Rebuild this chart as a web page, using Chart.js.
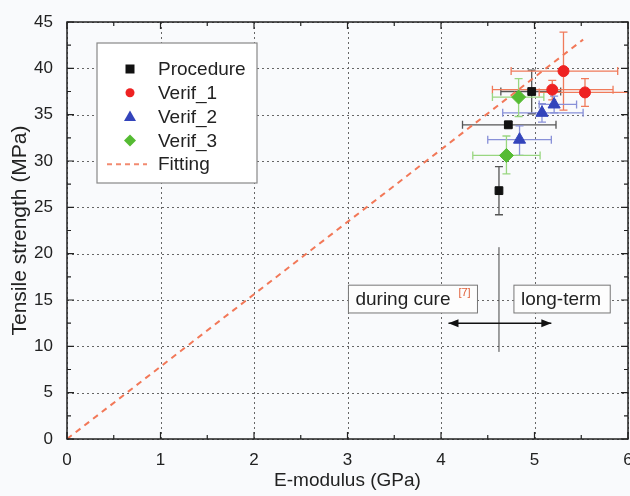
<!DOCTYPE html>
<html>
<head>
<meta charset="utf-8">
<script src="https://cdn.jsdelivr.net/npm/chart.js@4"></script>
<style>
  html, body { margin: 0; padding: 0; background: #f9fafc; overflow: hidden; }
  #wrap { width: 630px; height: 496px; overflow: hidden; }
</style>
</head>
<body>
<div id="wrap"><canvas id="grafico" width="636" height="496"></canvas></div>
<script>
// --- Datos ---
const procX = [4.97, 4.72, 4.62];
const procY = [37.5, 33.9, 26.8];
const procXLo = [4.64, 4.23, 4.60];
const procXHi = [5.28, 5.23, 4.64];
const procYLo = [35.1, 33.6, 24.2];
const procYHi = [39.8, 34.3, 29.4];

const v1X = [5.31, 5.19, 5.54];
const v1Y = [39.7, 37.7, 37.4];
const v1XLo = [4.75, 4.55, 5.05];
const v1XHi = [5.89, 5.84, 6.3];
const v1YLo = [35.5, 36.6, 35.9];
const v1YHi = [43.9, 38.7, 38.9];

const v2X = [5.21, 5.08, 4.84];
const v2Y = [36.1, 35.2, 32.3];
const v2XLo = [5.05, 4.66, 4.50];
const v2XHi = [5.45, 5.52, 5.18];
const v2YLo = [35.2, 34.2, 30.6];
const v2YHi = [37.0, 36.2, 33.8];

const v3X = [4.83, 4.70];
const v3Y = [36.9, 30.6];
const v3XLo = [4.55, 4.34];
const v3XHi = [5.10, 5.06];
const v3YLo = [34.8, 28.6];
const v3YHi = [38.9, 32.7];

const fitX = [0, 5.52];
const fitY = [0, 43.1];

const xTicks = [0, 1, 2, 3, 4, 5, 6];
const yTicks = [0, 5, 10, 15, 20, 25, 30, 35, 40, 45];

const FONT = "'Liberation Sans', Arial, sans-serif";

function puntos(xs, ys, xlo, xhi, ylo, yhi) {
    return xs.map((x, i) => ({ x: x, y: ys[i], xlo: xlo[i], xhi: xhi[i], ylo: ylo[i], yhi: yhi[i] }));
}

const series = [
    { label: "Procedure", data: puntos(procX, procY, procXLo, procXHi, procYLo, procYHi), color: "#111111", err: "#555555", style: "rect", r: 5.5 },
    { label: "Verif_1", data: puntos(v1X, v1Y, v1XLo, v1XHi, v1YLo, v1YHi), color: "#ee2222", err: "#f07a5a", style: "circle", r: 5.5 },
    { label: "Verif_2", data: puntos(v2X, v2Y, v2XLo, v2XHi, v2YLo, v2YHi), color: "#3344bb", err: "#8890d8", style: "triangle", r: 7 },
    { label: "Verif_3", data: puntos(v3X, v3Y, v3XLo, v3XHi, v3YLo, v3YHi), color: "#55bb33", err: "#99d680", style: "rectRot", r: 7 }
];

// --- Rejilla punteada, barras de error, marco, ticks internos, anotaciones, leyenda ---
const decoracion = {
    id: "decoracion",
    beforeDatasetsDraw(chart) {
        const ctx = chart.ctx, xs = chart.scales.x, ys = chart.scales.y;
        const area = chart.chartArea;
        ctx.save();

        // rejilla
        ctx.strokeStyle = "#666";
        ctx.lineWidth = 1;
        ctx.setLineDash([2, 3]);
        ctx.beginPath();
        xTicks.forEach(v => {
            const px = Math.round(xs.getPixelForValue(v)) + 0.5;
            ctx.moveTo(px, area.top); ctx.lineTo(px, area.bottom);
        });
        yTicks.forEach(v => {
            const py = Math.round(ys.getPixelForValue(v)) + 0.5;
            ctx.moveTo(area.left, py); ctx.lineTo(area.right, py);
        });
        ctx.stroke();
        ctx.setLineDash([]);

        ctx.beginPath();
        ctx.rect(area.left, area.top, area.right - area.left, area.bottom - area.top);
        ctx.clip();
        ctx.lineWidth = 1.3;
        series.forEach(s => {
            ctx.strokeStyle = s.err;
            s.data.forEach(p => {
                const px = xs.getPixelForValue(p.x), py = ys.getPixelForValue(p.y);
                const x1 = xs.getPixelForValue(p.xlo), x2 = xs.getPixelForValue(p.xhi);
                const y1 = ys.getPixelForValue(p.ylo), y2 = ys.getPixelForValue(p.yhi);
                ctx.beginPath();
                ctx.moveTo(x1, py); ctx.lineTo(x2, py);
                ctx.moveTo(x1, py - 4); ctx.lineTo(x1, py + 4);
                ctx.moveTo(x2, py - 4); ctx.lineTo(x2, py + 4);
                ctx.moveTo(px, y1); ctx.lineTo(px, y2);
                ctx.moveTo(px - 4, y1); ctx.lineTo(px + 4, y1);
                ctx.moveTo(px - 4, y2); ctx.lineTo(px + 4, y2);
                ctx.stroke();
            });
        });
        ctx.restore();
    },
    afterDraw(chart) {
        const ctx = chart.ctx, xs = chart.scales.x, ys = chart.scales.y;
        const a = chart.chartArea;
        ctx.save();

        // marco
        ctx.strokeStyle = "#222";
        ctx.lineWidth = 1.5;
        ctx.strokeRect(a.left, a.top, a.right - a.left, a.bottom - a.top);

        // ticks hacia dentro
        ctx.lineWidth = 1.2;
        ctx.beginPath();
        for (let v = 0; v <= 6; v += 0.5) {
            const px = xs.getPixelForValue(v);
            const len = (v % 1 === 0) ? 7 : 4;
            ctx.moveTo(px, a.bottom); ctx.lineTo(px, a.bottom - len);
            ctx.moveTo(px, a.top); ctx.lineTo(px, a.top + len);
        }
        for (let v = 0; v <= 45; v += 2.5) {
            const py = ys.getPixelForValue(v);
            const len = (v % 5 === 0) ? 7 : 4;
            ctx.moveTo(a.left, py); ctx.lineTo(a.left + len, py);
            ctx.moveTo(a.right, py); ctx.lineTo(a.right - len, py);
        }
        ctx.stroke();

        // cajas de texto
        ctx.font = "19px " + FONT;
        ctx.textBaseline = "middle";
        const caja = (x1, x2, y1, y2) => {
            const l = xs.getPixelForValue(x1), r = xs.getPixelForValue(x2);
            const t = ys.getPixelForValue(y2), b = ys.getPixelForValue(y1);
            ctx.fillStyle = "#fdfdfd";
            ctx.fillRect(l, t, r - l, b - t);
            ctx.strokeStyle = "#777";
            ctx.lineWidth = 1;
            ctx.strokeRect(l, t, r - l, b - t);
            return { l, t, r, b };
        };
        const c1 = caja(3.01, 4.39, 13.6, 16.6);
        ctx.fillStyle = "#222";
        ctx.textAlign = "left";
        ctx.fillText("during cure", c1.l + 7, (c1.t + c1.b) / 2 + 1);
        ctx.font = "11px " + FONT;
        ctx.fillStyle = "#e0603a";
        ctx.fillText("[7]", c1.l + 110, c1.t + 8);
        ctx.font = "19px " + FONT;
        const c2 = caja(4.78, 5.81, 13.6, 16.6);
        ctx.fillStyle = "#222";
        ctx.fillText("long-term", c2.l + 7, (c2.t + c2.b) / 2 + 1);

        // linea vertical y flecha
        const vx = xs.getPixelForValue(4.62);
        ctx.strokeStyle = "#444";
        ctx.lineWidth = 1;
        ctx.beginPath();
        ctx.moveTo(vx, ys.getPixelForValue(20.7));
        ctx.lineTo(vx, ys.getPixelForValue(9.4));
        ctx.stroke();
        const ay = ys.getPixelForValue(12.5);
        const ax1 = xs.getPixelForValue(4.08), ax2 = xs.getPixelForValue(5.18);
        ctx.strokeStyle = "#111";
        ctx.lineWidth = 1.5;
        ctx.beginPath();
        ctx.moveTo(ax1, ay); ctx.lineTo(ax2, ay);
        ctx.stroke();
        ctx.fillStyle = "#111";
        ctx.beginPath();
        ctx.moveTo(ax1, ay); ctx.lineTo(ax1 + 10, ay - 4); ctx.lineTo(ax1 + 10, ay + 4); ctx.closePath();
        ctx.moveTo(ax2, ay); ctx.lineTo(ax2 - 10, ay - 4); ctx.lineTo(ax2 - 10, ay + 4); ctx.closePath();
        ctx.fill();

        // leyenda
        const lx = 97, ly = 43, lw = 160, lh = 140;
        ctx.fillStyle = "#ffffff";
        ctx.fillRect(lx, ly, lw, lh);
        ctx.strokeStyle = "#888";
        ctx.lineWidth = 1.2;
        ctx.strokeRect(lx, ly, lw, lh);
        const filas = series.map(s => ({ label: s.label, s: s })).concat([{ label: "Fitting", s: null }]);
        ctx.font = "19px " + FONT;
        filas.forEach((f, i) => {
            const y = ly + 26 + i * 23.8;
            const mx = lx + 33;
            if (f.s) {
                ctx.fillStyle = f.s.color;
                ctx.beginPath();
                const r = 4.5;
                if (f.s.style === "rect") ctx.rect(mx - r, y - r, 2 * r, 2 * r);
                else if (f.s.style === "circle") ctx.arc(mx, y, r, 0, Math.PI * 2);
                else if (f.s.style === "triangle") { ctx.moveTo(mx, y - 6); ctx.lineTo(mx + 6, y + 4.5); ctx.lineTo(mx - 6, y + 4.5); ctx.closePath(); }
                else { ctx.moveTo(mx, y - 6); ctx.lineTo(mx + 6, y); ctx.lineTo(mx, y + 6); ctx.lineTo(mx - 6, y); ctx.closePath(); }
                ctx.fill();
            } else {
                ctx.strokeStyle = "#f28a70";
                ctx.lineWidth = 2;
                ctx.setLineDash([5, 4]);
                ctx.beginPath();
                ctx.moveTo(lx + 10, y); ctx.lineTo(lx + 50, y);
                ctx.stroke();
                ctx.setLineDash([]);
            }
            ctx.fillStyle = "#222";
            ctx.textAlign = "left";
            ctx.fillText(f.label, lx + 61, y + 1);
        });

        ctx.restore();
    }
};

const datasets = [{
    label: "Fitting",
    type: "line",
    data: fitX.map((x, i) => ({ x: x, y: fitY[i] })),
    borderColor: "#f27858",
    borderWidth: 2,
    borderDash: [6, 5],
    pointRadius: 0,
    fill: false
}].concat(series.map(s => ({
    label: s.label,
    data: s.data,
    pointStyle: s.style,
    pointRadius: s.r,
    backgroundColor: s.color,
    borderColor: s.color,
    borderWidth: 1
})));

new Chart(document.getElementById("grafico"), {
    type: "scatter",
    data: { datasets: datasets },
    options: {
        responsive: false,
        animation: false,
        layout: { padding: { top: 22, right: 0, left: 8, bottom: 0 } },
        plugins: { legend: { display: false }, tooltip: { enabled: false } },
        scales: {
            x: {
                type: "linear",
                min: 0, max: 6,
                afterBuildTicks: sc => { sc.ticks = xTicks.map(v => ({ value: v })); },
                afterFit: sc => { sc.height = 57; sc.paddingLeft = 0; sc.paddingRight = 0; },
                grid: { display: false },
                border: { display: false },
                ticks: { color: "#222", padding: 3, font: { family: FONT, size: 17 } },
                title: { display: true, text: "E-modulus (GPa)", color: "#222", padding: { top: 2, bottom: 4 }, font: { family: FONT, size: 19 } }
            },
            y: {
                min: 0, max: 45,
                afterBuildTicks: sc => { sc.ticks = yTicks.map(v => ({ value: v })); },
                afterFit: sc => { sc.width = 59; sc.paddingTop = 0; sc.paddingBottom = 0; },
                grid: { display: false },
                border: { display: false },
                ticks: { color: "#222", padding: 6, font: { family: FONT, size: 17 } },
                title: { display: true, text: "Tensile strength (MPa)", color: "#222", padding: { top: 0, bottom: 2 }, font: { family: FONT, size: 21 } }
            }
        }
    },
    plugins: [decoracion]
});
</script>
</body>
</html>
